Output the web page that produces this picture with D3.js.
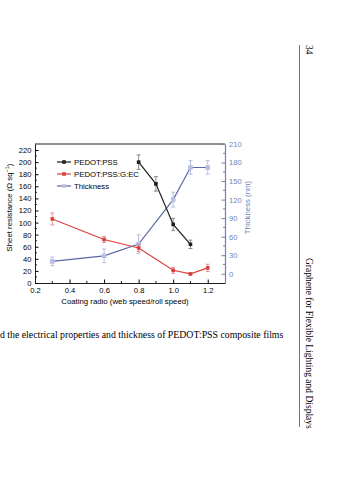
<!DOCTYPE html>
<html>
<head>
<meta charset="utf-8">
<script src="https://cdn.jsdelivr.net/npm/d3@7"></script>
<style>
  body { margin: 0; background: #fff; }
  svg { display: block; }
  .tick text { font-family: "Liberation Sans", Arial, sans-serif; font-size: 7.6px; }
</style>
</head>
<body>
<div id="chart"></div>
<script>
// data
var pedotX = [0.8, 0.9, 1.0, 1.1];
var pedotY = [200, 164, 97, 64];
var pedotErr = [12, 12, 10, 7];

var gecX = [0.3, 0.6, 0.8, 1.0, 1.1, 1.2];
var gecY = [106, 72, 58, 21, 15, 25];
var gecErr = [10, 5, 6, 5, 2, 6];

var thickX = [0.3, 0.6, 0.8, 1.0, 1.1, 1.2];
var thickY = [20, 29, 48, 120, 172, 172];
var thickErr = [7, 11, 15, 12, 11, 11];

var leftTicks = [0, 20, 40, 60, 80, 100, 120, 140, 160, 180, 200, 220];
var rightTicks = [0, 30, 60, 90, 120, 150, 180, 210];
var xTicks = [0.2, 0.4, 0.6, 0.8, 1.0, 1.2];

var W = 359, H = 480;
var margin = {top: 144, right: 134, bottom: 197, left: 35},
    width = W - margin.left - margin.right,
    height = H - margin.top - margin.bottom;

var blue = "#5b68a8", blueAxis = "#6f7fb8", red = "#d9403a", black = "#1f1f1f";
var sans = "Liberation Sans, Arial, sans-serif", serif = "Liberation Serif, Times New Roman, serif";

var svg = d3.select("#chart").append("svg")
    .attr("width", W)
    .attr("height", H);

var g = svg.append("g")
    .attr("transform", "translate(" + margin.left + "," + margin.top + ")");

var x = d3.scaleLinear().domain([0.2, 1.3]).range([0, width]);
var yL = d3.scaleLinear().domain([0, 230]).range([height, 0]);
var yR = d3.scaleLinear().domain([-15, 210]).range([height, 0]);

// minor ticks
function minor(axisG, vals, fn) {
  axisG.selectAll(".minor").data(vals).enter().append("line")
    .attr("class", "minor")
    .each(fn);
}

// x axis (ticks inward)
var gx = g.append("g")
  .attr("transform", "translate(0," + height + ")")
  .call(d3.axisBottom(x).tickValues(xTicks).tickSizeInner(-3.5).tickSizeOuter(0)
        .tickFormat(d3.format(".1f")));
gx.selectAll(".tick text").attr("y", 5);
gx.select(".domain").attr("stroke", black);
minor(gx, [0.3, 0.5, 0.7, 0.9, 1.1], function(d) {
  d3.select(this).attr("x1", x(d)).attr("x2", x(d)).attr("y1", 0).attr("y2", -2).attr("stroke", black);
});

// top frame
g.append("line").attr("x1", 0).attr("x2", width).attr("y1", 0).attr("y2", 0)
  .attr("stroke", black);

// left axis
var gl = g.append("g")
  .call(d3.axisLeft(yL).tickValues(leftTicks).tickSizeInner(-3.5).tickSizeOuter(0));
gl.selectAll(".tick text").attr("x", -3.5);
gl.select(".domain").attr("stroke", black);
minor(gl, d3.range(10, 230, 20), function(d) {
  d3.select(this).attr("y1", yL(d)).attr("y2", yL(d)).attr("x1", 0).attr("x2", 2).attr("stroke", black);
});

// right axis
var gr = g.append("g")
  .attr("transform", "translate(" + width + ",0)")
  .call(d3.axisRight(yR).tickValues(rightTicks).tickSizeInner(-3.5).tickSizeOuter(0));
gr.selectAll(".tick text").attr("x", 4).attr("fill", blueAxis);
gr.selectAll(".tick line").attr("stroke", blueAxis);
gr.select(".domain").attr("stroke", blueAxis).attr("stroke-width", 1.2);
minor(gr, d3.range(15, 210, 30), function(d) {
  d3.select(this).attr("y1", yR(d)).attr("y2", yR(d)).attr("x1", 0).attr("x2", -2).attr("stroke", blueAxis);
});

// axis titles
g.append("text")
  .attr("x", width / 2 - 5).attr("y", height + 21)
  .attr("text-anchor", "middle")
  .style("font-family", sans).style("font-size", "7.8px")
  .text("Coating radio (web speed/roll speed)");

var lt = g.append("text")
  .attr("transform", "translate(-23," + (height / 2 - 6) + ") rotate(-90)")
  .attr("text-anchor", "middle")
  .style("font-family", sans).style("font-size", "7.8px");
lt.append("tspan").text("Sheet resistance (Ω sq");
lt.append("tspan").attr("dy", -3).style("font-size", "5.5px").text("−1");
lt.append("tspan").attr("dy", 3).text(")");

g.append("text")
  .attr("transform", "translate(" + (width + 25) + "," + (height / 2 - 6) + ") rotate(-90)")
  .attr("text-anchor", "middle")
  .attr("fill", blueAxis)
  .style("font-family", sans).style("font-size", "7.8px")
  .text("Thickness (nm)");

// series
function series(xs, ys, errs, yScale, color, errColor, filled) {
  var pts = xs.map(function(d, i) { return {x: d, y: ys[i], e: errs[i]}; });
  var s = g.append("g");
  s.selectAll(".err").data(pts).enter().append("path")
    .attr("fill", "none").attr("stroke", errColor).attr("stroke-width", 0.8)
    .attr("d", function(d) {
      var cx = x(d.x), t = yScale(d.y + d.e), b = yScale(d.y - d.e);
      return "M" + (cx - 2) + "," + t + "H" + (cx + 2) + "M" + cx + "," + t + "V" + b +
             "M" + (cx - 2) + "," + b + "H" + (cx + 2);
    });
  s.append("path").datum(pts)
    .attr("fill", "none").attr("stroke", color).attr("stroke-width", 1.2)
    .attr("d", d3.line().x(function(d) { return x(d.x); }).y(function(d) { return yScale(d.y); }));
  s.selectAll(".pt").data(pts).enter().append("rect")
    .attr("x", function(d) { return x(d.x) - 1.8; })
    .attr("y", function(d) { return yScale(d.y) - 1.8; })
    .attr("width", 3.6).attr("height", 3.6)
    .attr("fill", filled ? color : "#b8c0e0")
    .attr("stroke", filled ? "none" : "#b8c0e0");
}
series(thickX, thickY, thickErr, yR, blue, "#a8b0d8", false);
series(gecX, gecY, gecErr, yL, red, "#d98080", true);
series(pedotX, pedotY, pedotErr, yL, black, "#707070", true);

// legend
var legend = [
  {name: "PEDOT:PSS", color: black, mk: black},
  {name: "PEDOT:PSS:G:EC", color: red, mk: red},
  {name: "Thickness", color: blue, mk: "#b8c0e0"}
];
var lg = g.append("g").attr("transform", "translate(22,18)");
legend.forEach(function(d, i) {
  var r = lg.append("g").attr("transform", "translate(0," + i * 12 + ")");
  r.append("line").attr("x1", 0).attr("x2", 14).attr("stroke", d.color).attr("stroke-width", 1.2);
  r.append("rect").attr("x", 5.2).attr("y", -1.8).attr("width", 3.6).attr("height", 3.6).attr("fill", d.mk);
  r.append("text").attr("x", 17).attr("y", 2.8)
    .style("font-family", sans).style("font-size", "7.8px")
    .text(d.name);
});

// page furniture
svg.append("text")
  .attr("x", 0).attr("y", 338)
  .style("font-family", serif).style("font-size", "9.8px")
  .text("d the electrical properties and thickness of PEDOT:PSS composite films");

svg.append("line").attr("x1", 299.5).attr("x2", 299.5).attr("y1", 45).attr("y2", 427)
  .attr("stroke", "#777").attr("stroke-width", 1);

svg.append("text")
  .attr("transform", "translate(306,45) rotate(90)")
  .style("font-family", serif).style("font-size", "9.5px")
  .text("34");

svg.append("text")
  .attr("transform", "translate(306,258) rotate(90)")
  .style("font-family", serif).style("font-size", "9.5px")
  .text("Graphene for Flexible Lighting and Displays");
</script>
</body>
</html>
